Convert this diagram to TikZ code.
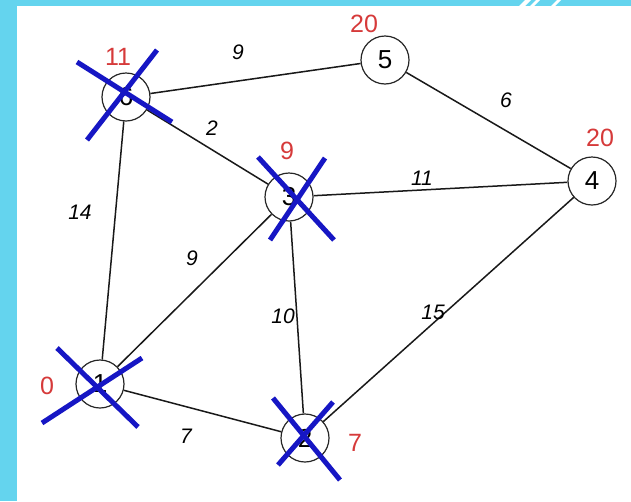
\documentclass[tikz,border=0pt]{standalone}
\usepackage{fontspec}
\setmainfont{Liberation Sans}
\definecolor{band}{RGB}{100,212,238}
\definecolor{distred}{RGB}{214,58,58}
\definecolor{xblue}{RGB}{22,22,196}
\begin{document}
\begin{tikzpicture}[x=1pt,y=-1pt,
  vertex/.style={draw=black!85,line width=1.2pt,circle,minimum size=48pt,inner sep=0pt,font=\fontsize{26}{26}\selectfont},
  dist/.style={text=distred,inner sep=0pt,font=\fontsize{25}{25}\selectfont},
  wlabel/.style={inner sep=0pt,font=\fontsize{21}{21}\selectfont\itshape},
  edge/.style={draw=black!90,line width=1.5pt},
  cross/.style={draw=xblue,line width=5pt}]
\useasboundingbox (0,0) rectangle (631,501);
\fill[white] (0,0) rectangle (631,501);
% frame bands
\fill[band] (0,0) rectangle (17,501);
\fill[band] (0,0) rectangle (631,6);
\fill[white] (519,6) -- (525,0) -- (531,0) -- (525,6) -- cycle;
\fill[white] (530,6) -- (536,0) -- (540,0) -- (534,6) -- cycle;
\fill[white] (551,6) -- (557,0) -- (561,0) -- (555,6) -- cycle;
% vertices
\node[vertex] (n1) at (100,384) {1};
\node[vertex] (n2) at (305,438) {2};
\node[vertex] (n3) at (289,197) {3};
\node[vertex] (n4) at (592,181) {4};
\node[vertex] (n5) at (385,60) {5};
\node[vertex] (n6) at (126,97) {6};
% edges
\draw[edge] (n6) -- (n5);
\draw[edge] (n5) -- (n4);
\draw[edge] (n6) -- (n3);
\draw[edge] (n3) -- (n4);
\draw[edge] (n1) -- (n6);
\draw[edge] (n1) -- (n3);
\draw[edge] (n3) -- (n2);
\draw[edge] (n2) -- (n4);
\draw[edge] (n1) -- (n2);
% edge weights
\node[wlabel] (w65) at (238,52) {9};
\node[wlabel] (w54) at (506,100) {6};
\node[wlabel] (w63) at (212,128) {2};
\node[wlabel] (w34) at (422,178) {11};
\node[wlabel] (w16) at (80,212) {14};
\node[wlabel] (w13) at (192,258) {9};
\node[wlabel] (w32) at (283,316) {10};
\node[wlabel] (w24) at (433,312) {15};
\node[wlabel] (w12) at (186,436) {7};
% distances
\node[dist] (d6) at (118,57) {11};
\node[dist] (d5) at (364,24) {20};
\node[dist] (d3) at (287,151) {9};
\node[dist] (d4) at (600,138) {20};
\node[dist] (d1) at (47,386) {0};
\node[dist] (d2) at (355,443) {7};
% crosses
\draw[cross] (77,62) -- (172,122);
\draw[cross] (157,50) -- (87,140);
\draw[cross] (258,157) -- (334,240);
\draw[cross] (325,158) -- (270,240);
\draw[cross] (57,348) -- (138,427);
\draw[cross] (42,423) -- (142,358);
\draw[cross] (273,398) -- (340,480);
\draw[cross] (333,402) -- (278,465);
\end{tikzpicture}
\end{document}
